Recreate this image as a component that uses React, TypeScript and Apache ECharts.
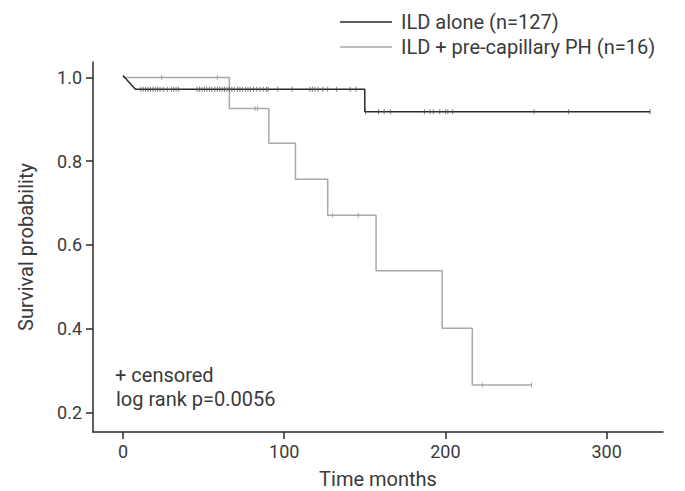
import React, { useEffect, useRef } from "react";
import * as echarts from "echarts";

// ILD alone: curve vertices (months, survival)
const ildAloneTime = [0, 7.7, 150, 150, 327];
const ildAloneSurv = [1.005, 0.972, 0.972, 0.918, 0.918];
// ILD alone censored observations
const ildAloneCensTime = [
  11, 12.5, 14, 15.5, 17, 18.5, 20, 21.5, 23, 25, 27.5, 30, 31.5, 33, 34.5,
  46, 47.5, 49, 50.5, 52, 53.5, 55, 57, 58.5, 60, 61.5, 63, 64.5, 66, 67.5,
  69, 71, 72.5, 74, 76, 77.5, 79, 81, 83, 85, 87, 89, 90, 96, 105, 116, 117.5,
  119, 121, 124, 127, 132.5, 141, 144.5,
  150.5, 158.5, 162, 166, 187, 190.5, 192.5, 196.5, 200, 201.5, 204.5, 255, 276.5, 327,
];
const ildAloneCensSurv = [
  0.972, 0.972, 0.972, 0.972, 0.972, 0.972, 0.972, 0.972, 0.972, 0.972, 0.972, 0.972, 0.972, 0.972, 0.972,
  0.972, 0.972, 0.972, 0.972, 0.972, 0.972, 0.972, 0.972, 0.972, 0.972, 0.972, 0.972, 0.972, 0.972, 0.972,
  0.972, 0.972, 0.972, 0.972, 0.972, 0.972, 0.972, 0.972, 0.972, 0.972, 0.972, 0.972, 0.972, 0.972, 0.972, 0.972, 0.972,
  0.972, 0.972, 0.972, 0.972, 0.972, 0.972, 0.972,
  0.918, 0.918, 0.918, 0.918, 0.918, 0.918, 0.918, 0.918, 0.918, 0.918, 0.918, 0.918, 0.918, 0.918,
];

// ILD + pre-capillary PH: step points (time of event, survival after event)
const phTime = [0, 66, 90.5, 107, 127, 157, 198, 216.7, 253.4];
const phSurv = [1.0, 0.926, 0.843, 0.757, 0.671, 0.538, 0.401, 0.265, 0.265];
const phCensTime = [24, 58.5, 82, 83.5, 130, 146, 223, 253.4];
const phCensSurv = [1.0, 1.0, 0.926, 0.926, 0.671, 0.671, 0.265, 0.265];

const xTicks = [0, 100, 200, 300];
const yTicks = [0.2, 0.4, 0.6, 0.8, 1.0];

const seriesNames = ["ILD alone (n=127)", "ILD + pre-capillary PH (n=16)"];
const annotations = ["+ censored", "log rank p=0.0056"];

const FONT = "Roboto";
const TEXT = "#3a3a3a";
const DARK = "#2a2a2a";
const GRAY = "#a8a8a8";

const zip = (a: number[], b: number[]) => a.map((v, i) => [v, b[i]]);

export default function App() {
  const ref = useRef<HTMLDivElement>(null);
  useEffect(() => {
    if (!ref.current) return;
    document.body.style.margin = "0";
    const chart = echarts.init(ref.current, undefined, { renderer: "svg" });
    chart.setOption({
      animation: false,
      backgroundColor: "#fff",
      textStyle: { fontFamily: FONT, color: TEXT },
      grid: { left: 93, right: 22, top: 62, bottom: 59, outerBoundsMode: "none" },
      legend: {
        data: seriesNames,
        orient: "vertical",
        left: 340,
        top: 12,
        padding: 0,
        icon: "rect",
        itemWidth: 52,
        itemHeight: 1.5,
        itemGap: 5,
        textStyle: { fontFamily: FONT, fontSize: 20, color: TEXT, padding: [0, 0, 0, 4] },
      },
      xAxis: {
        type: "value",
        position: "bottom",
        min: -18.6,
        max: 335,
        name: "Time months",
        nameLocation: "middle",
        nameGap: 37,
        nameTextStyle: { fontFamily: FONT, fontSize: 20, color: TEXT },
        axisLine: { show: true, lineStyle: { color: DARK, width: 1.5 } },
        axisTick: { show: true, length: 7, customValues: xTicks, lineStyle: { color: DARK, width: 1.5 } },
        axisLabel: { customValues: xTicks, fontSize: 18, color: TEXT, margin: 10, fontFamily: FONT },
        splitLine: { show: false },
      },
      yAxis: {
        type: "value",
        position: "left",
        min: 0.153,
        max: 1.037,
        name: "Survival probability",
        nameLocation: "middle",
        nameGap: 57,
        nameTextStyle: { fontFamily: FONT, fontSize: 20, color: TEXT },
        axisLine: { show: true, onZero: false, lineStyle: { color: DARK, width: 1.5 } },
        axisTick: { show: true, length: 7, customValues: yTicks, lineStyle: { color: DARK, width: 1.5 } },
        axisLabel: {
          customValues: yTicks,
          fontSize: 18,
          color: TEXT,
          margin: 11,
          fontFamily: FONT,
          formatter: (v: number) => v.toFixed(1),
        },
        splitLine: { show: false },
      },
      series: [
        {
          name: seriesNames[0],
          type: "line",
          symbol: "none",
          data: zip(ildAloneTime, ildAloneSurv),
          lineStyle: { color: DARK, width: 1.5 },
          itemStyle: { color: DARK },
          z: 3,
        },
        {
          name: seriesNames[1],
          type: "line",
          symbol: "none",
          step: "end",
          data: zip(phTime, phSurv),
          lineStyle: { color: GRAY, width: 1.5 },
          itemStyle: { color: GRAY },
          z: 2,
        },
        {
          name: "ILD alone censored",
          type: "scatter",
          symbol: "rect",
          symbolSize: [1, 5],
          data: zip(ildAloneCensTime, ildAloneCensSurv),
          itemStyle: { color: "#555" },
          z: 4,
        },
        {
          name: "ILD + PH censored",
          type: "scatter",
          symbol: "rect",
          symbolSize: [1, 5],
          data: zip(phCensTime, phCensSurv),
          itemStyle: { color: "#999" },
          z: 4,
        },
      ],
      graphic: [
        {
          type: "text",
          left: 115,
          top: 365,
          style: { text: annotations[0], font: `20px ${FONT}`, fill: TEXT },
        },
        {
          type: "text",
          left: 116,
          top: 389,
          style: { text: annotations[1], font: `20px ${FONT}`, fill: TEXT },
        },
      ],
    });
    return () => chart.dispose();
  }, []);
  return <div ref={ref} style={{ width: 685, height: 491 }} />;
}
